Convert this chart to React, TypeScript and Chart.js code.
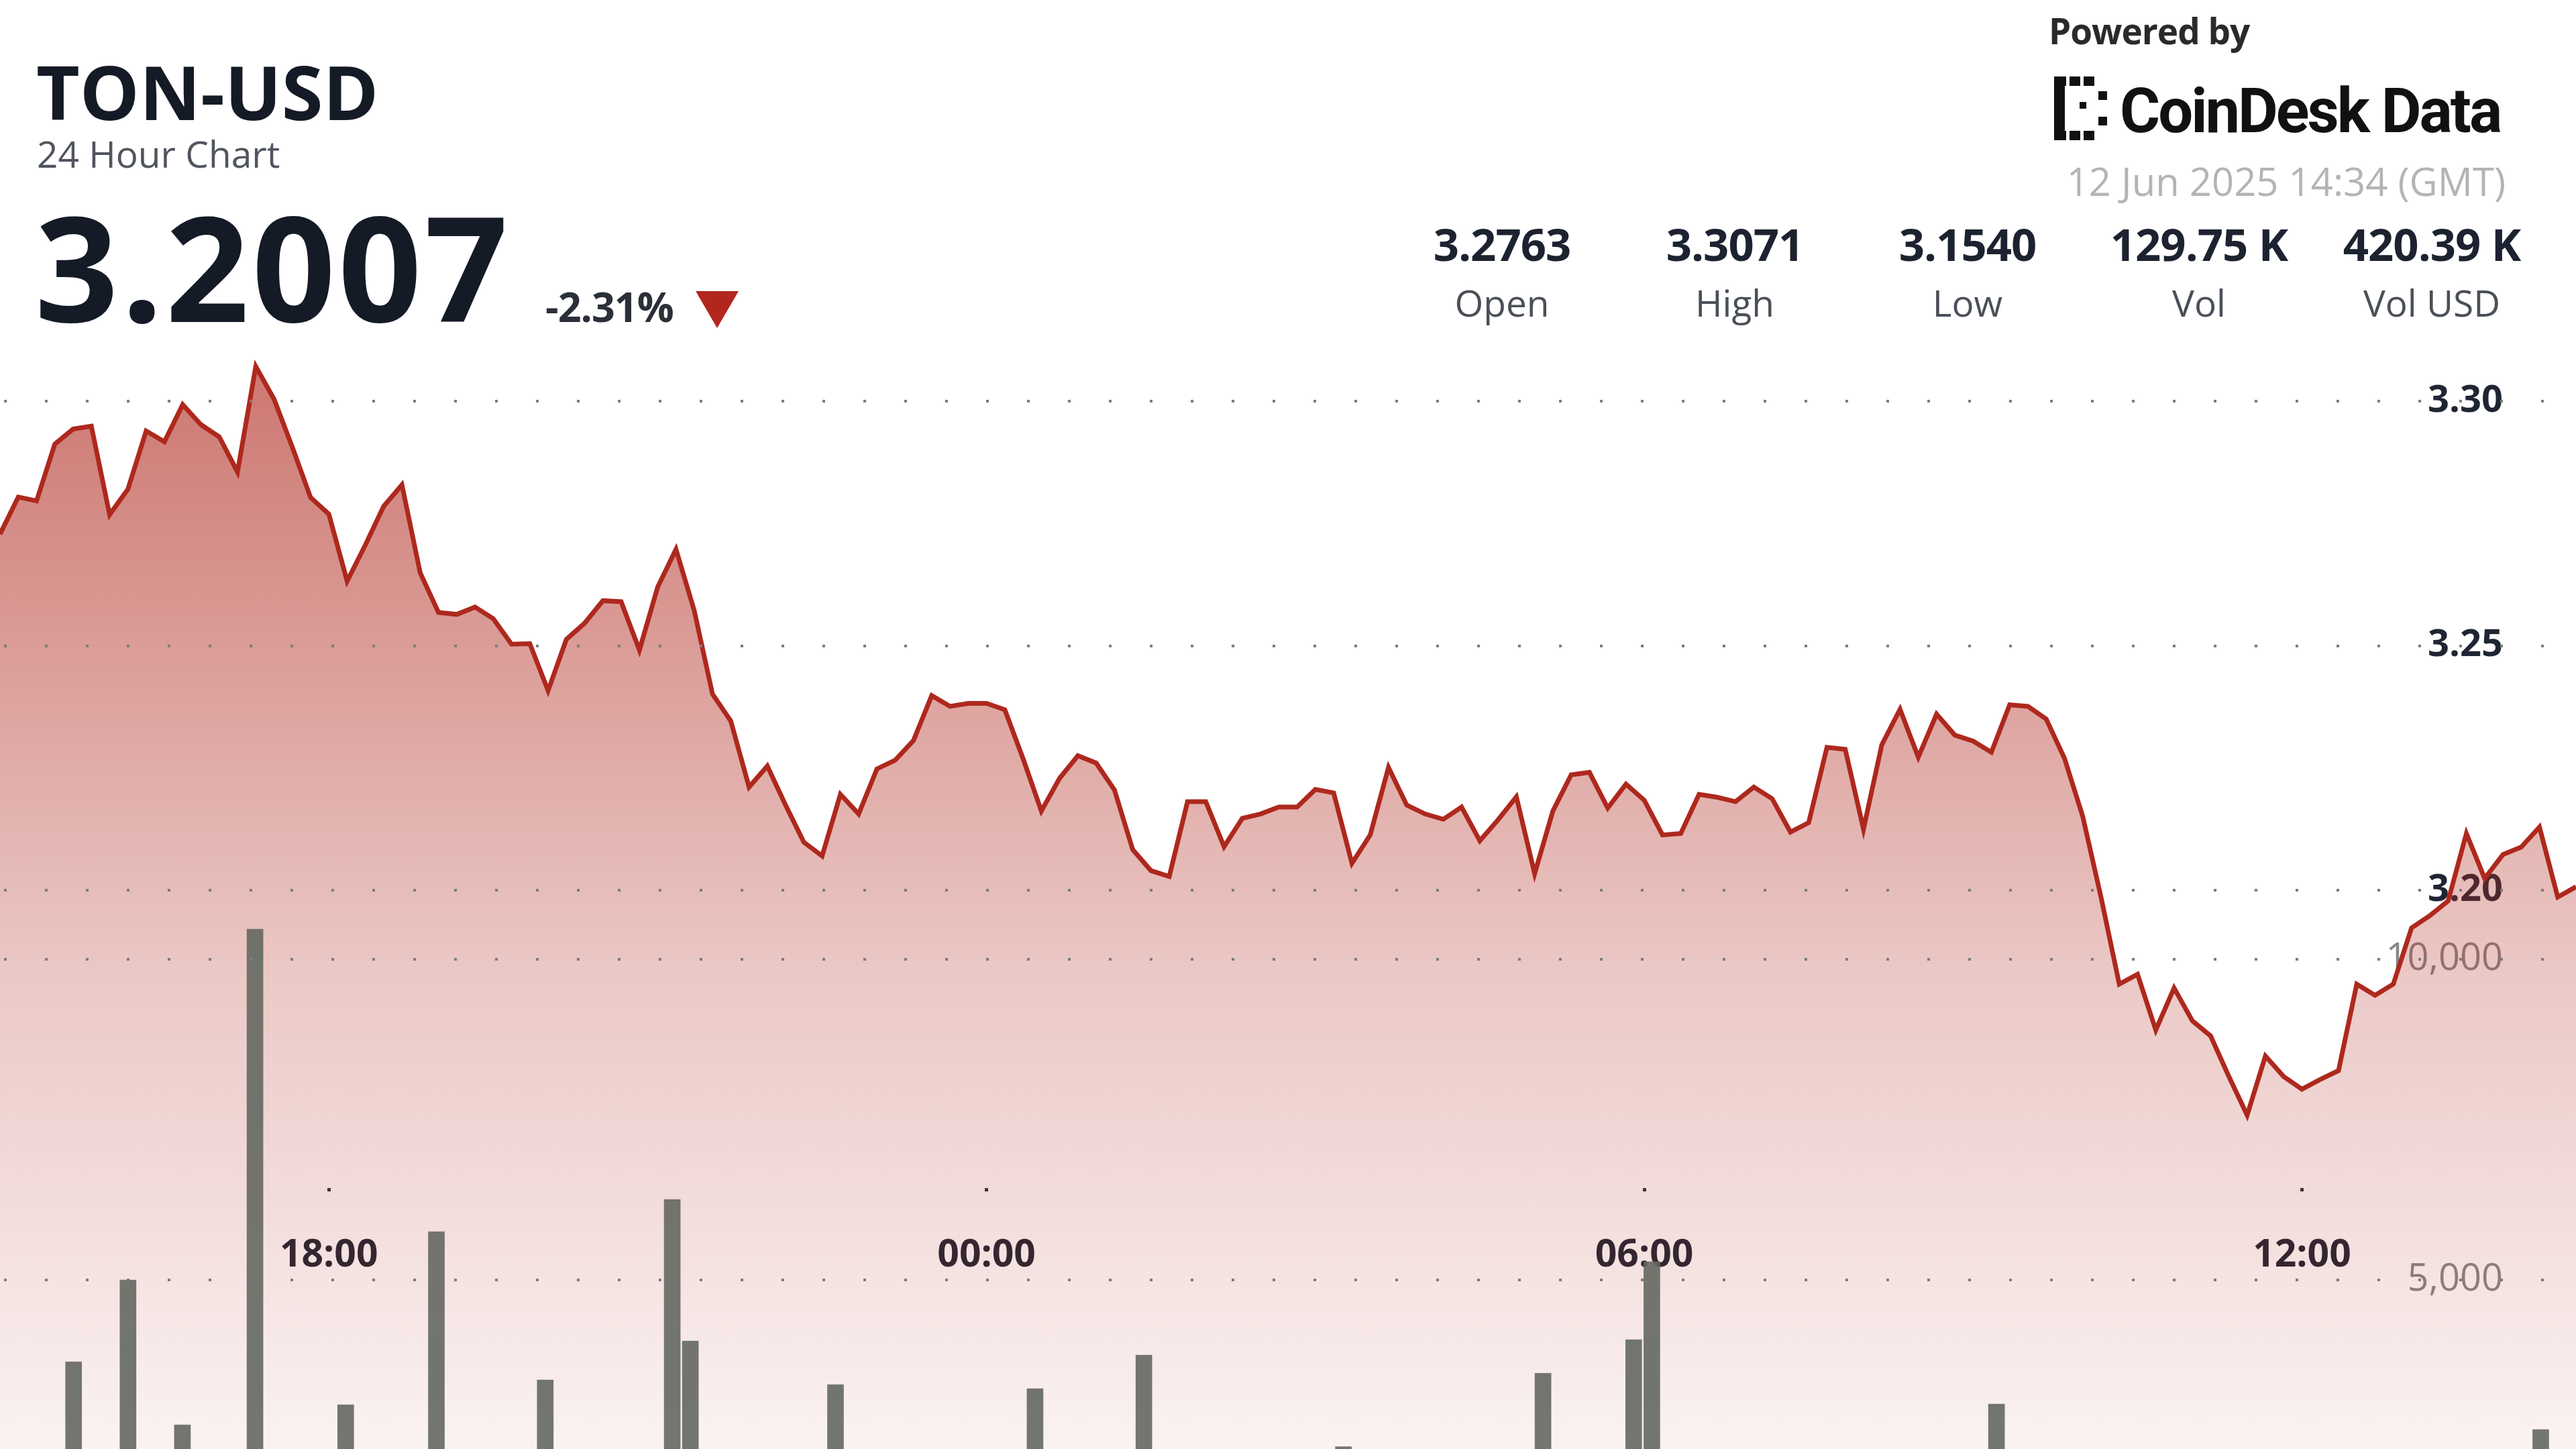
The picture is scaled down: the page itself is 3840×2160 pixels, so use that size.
import React, { useEffect, useRef } from 'react';
import { Chart, registerables } from 'chart.js';

Chart.register(...registerables);

const FONT = "'Open Sans', sans-serif";

// 10-minute closes, 11 Jun 15:00 -> 12 Jun 14:30 (GMT)
const prices = [
  3.2728, 3.2804, 3.2796, 3.2912, 3.2943, 3.2949, 3.2768, 3.2820, 3.2939, 3.2917,
  3.2993, 3.2952, 3.2927, 3.2855, 3.3071, 3.3004, 3.2906, 3.2803, 3.2769, 3.2632,
  3.2706, 3.2785, 3.2829, 3.2649, 3.2568, 3.2564, 3.2579, 3.2555, 3.2503, 3.2504,
  3.2408, 3.2513, 3.2546, 3.2592, 3.2590, 3.2491, 3.2620, 3.2697, 3.2572, 3.2401,
  3.2346, 3.2211, 3.2254, 3.2174, 3.2098, 3.2070, 3.2196, 3.2156, 3.2248, 3.2266,
  3.2306, 3.2398, 3.2376, 3.2382, 3.2382, 3.2369, 3.2269, 3.2162, 3.2229, 3.2275,
  3.2260, 3.2205, 3.2083, 3.2040, 3.2028, 3.2181, 3.2181, 3.2089, 3.2147, 3.2156,
  3.2170, 3.2170, 3.2206, 3.2199, 3.2055, 3.2113, 3.2251, 3.2174, 3.2156, 3.2145,
  3.2170, 3.2101, 3.2144, 3.2191, 3.2034, 3.2162, 3.2236, 3.2241, 3.2168, 3.2217,
  3.2184, 3.2113, 3.2116, 3.2196, 3.2190, 3.2181, 3.2211, 3.2187, 3.2119, 3.2138,
  3.2292, 3.2288, 3.2125, 3.2297, 3.2370, 3.2272, 3.2360, 3.2317, 3.2305, 3.2282,
  3.2379, 3.2376, 3.2350, 3.2270, 3.2151, 3.1986, 3.1808, 3.1828, 3.1714, 3.1800,
  3.1733, 3.1702, 3.1619, 3.1540, 3.1661, 3.1619, 3.1593, 3.1613, 3.1631, 3.1808,
  3.1785, 3.1808, 3.1923, 3.1948, 3.1978, 3.2116, 3.2024, 3.2073, 3.2088, 3.2129,
  3.1986, 3.2007,
];

const volumes = [
  820, 1240, 960, 1510, 3724, 1130, 870, 5000, 1420, 990,
  2740, 1180, 760, 1350, 10470, 1620, 1090, 840, 1270, 3054,
  980, 1410, 720, 1160, 5753, 1330, 890, 1050, 1240, 930,
  3441, 1120, 780, 1290, 1010, 860, 1470, 6255, 4048, 1380,
  1150, 940, 1260, 810, 1090, 1320, 3368, 1040, 760, 1180,
  920, 1350, 690, 830, 1110, 980, 1240, 3305, 870, 1030,
  760, 1190, 1420, 3828, 1060, 890, 720, 1280, 940, 810,
  670, 1030, 860, 740, 2400, 920, 1150, 780, 690, 1010,
  840, 960, 1120, 750, 1370, 3546, 1090, 820, 1230, 1540,
  4069, 5283, 1320, 980, 860, 1140, 1010, 790, 1260, 930,
  1480, 1090, 1620, 1170, 1390, 950, 1210, 880, 1060, 1330,
  3065, 1440, 1180, 1570, 1830, 1960, 1720, 1350, 1680, 1290,
  1150, 1420, 1610, 1890, 1240, 1080, 960, 1190, 1310, 1560,
  1270, 1140, 1380, 1020, 1190, 1450, 980, 1110, 1230, 1060,
  2667, 870,
];

const priceTicks = [3.2, 3.25, 3.3];
const volumeTicks = [5000, 10000];
const xTickLabels = ['18:00', '00:00', '06:00', '12:00'];

const START_MINUTE = 15 * 60;
const STEP_MINUTES = 10;
const timeLabels = prices.map((_, i) => {
  const m = START_MINUTE + i * STEP_MINUTES;
  const h = Math.floor(m / 60) % 24;
  const mm = m % 60;
  return `${String(h).padStart(2, '0')}:${String(mm).padStart(2, '0')}`;
});

const statValues = ['3.2763', '3.3071', '3.1540', '129.75 K', '420.39 K'];
const statLabels = ['Open', 'High', 'Low', 'Vol', 'Vol USD'];
const statCenters = [2239, 2586, 2933, 3278, 3625];

function App() {
  const canvasRef = useRef<HTMLCanvasElement | null>(null);

  useEffect(() => {
    const canvas = canvasRef.current;
    if (!canvas) return;
    const volumePoints = volumes.map((v, i) => ({ x: i, y: v }));
    const chart = new Chart(canvas, {
      type: 'line',
      data: {
        labels: timeLabels,
        datasets: [
          {
            type: 'bar',
            label: 'Volume',
            data: volumePoints,
            xAxisID: 'xb',
            yAxisID: 'yv',
            backgroundColor: 'rgba(100,104,97,0.9)',
            borderWidth: 0,
            barThickness: 24,
            order: 0,
          } as any,
          {
            type: 'line',
            label: 'TON-USD',
            data: prices,
            xAxisID: 'x',
            yAxisID: 'y',
            borderColor: '#ae281d',
            borderWidth: 7,
            borderJoinStyle: 'miter',
            pointRadius: 0,
            tension: 0,
            fill: 'start',
            order: 1,
            backgroundColor: (ctx: any) => {
              const { chart } = ctx;
              const area = chart.chartArea;
              if (!area) return 'rgba(178,45,35,0.3)';
              const g = chart.ctx.createLinearGradient(0, area.top, 0, area.bottom);
              g.addColorStop(0, 'rgba(178,45,35,0.66)');
              g.addColorStop(0.57, 'rgba(178,45,35,0.26)');
              g.addColorStop(1, 'rgba(178,45,35,0.06)');
              return g;
            },
          } as any,
        ],
      },
      options: {
        responsive: false,
        animation: false,
        devicePixelRatio: 1,
        layout: { padding: { top: 520, left: 0, right: 0, bottom: 0 } },
        plugins: {
          legend: { display: false },
          tooltip: { enabled: false },
          title: { display: false },
        },
        scales: {
          x: {
            type: 'category',
            position: { y: 3.1391 } as any,
            offset: false,
            grid: {
              display: true,
              drawOnChartArea: false,
              drawTicks: true,
              tickLength: 5,
              tickWidth: 5,
              tickColor: '#2a2f3a',
            },
            border: { display: false },
            afterBuildTicks: (scale: any) => {
              scale.ticks = xTickLabels.map((l) => ({ value: timeLabels.indexOf(l) }));
            },
            ticks: {
              autoSkip: false,
              maxRotation: 0,
              minRotation: 0,
              padding: 62,
              color: '#1f2533',
              font: { family: FONT, size: 57, weight: 'bold' },
            },
          } as any,
          xb: {
            type: 'linear',
            min: -0.5,
            max: prices.length - 0.5,
            offset: false,
            display: false,
          } as any,
          y: {
            type: 'linear',
            position: 'right',
            bounds: 'data',
            min: 3.085734,
            max: 3.3107,
            afterBuildTicks: (scale: any) => {
              scale.ticks = priceTicks.map((v) => ({ value: v }));
            },
            afterFit: (scale: any) => {
              scale.width = 0;
            },
            grid: { color: '#7c7c7c', lineWidth: 4, drawTicks: false, z: 1 },
            border: { display: false, dash: [4, 57], dashOffset: -6 },
            ticks: {
              mirror: true,
              padding: -109,
              color: '#1f2533',
              font: { family: FONT, size: 56, weight: 'bold' },
              callback: (v: any) => Number(v).toFixed(2),
            },
          } as any,
          yv: {
            type: 'linear',
            position: 'right',
            bounds: 'data',
            min: 2364,
            max: 19519,
            afterBuildTicks: (scale: any) => {
              scale.ticks = volumeTicks.map((v) => ({ value: v }));
            },
            afterFit: (scale: any) => {
              scale.width = 0;
            },
            grid: { color: '#7c7c7c', lineWidth: 4, drawTicks: false, z: 1 },
            border: { display: false, dash: [4, 57], dashOffset: -6 },
            ticks: {
              mirror: true,
              padding: -109,
              color: 'rgba(115,115,115,0.85)',
              font: { family: FONT, size: 56, weight: 'normal' },
              callback: (v: any) => Number(v).toLocaleString('en-US'),
            },
          } as any,
        },
      } as any,
    });
    return () => chart.destroy();
  }, []);

  const abs = (style: React.CSSProperties): React.CSSProperties => ({
    position: 'absolute',
    lineHeight: 1,
    whiteSpace: 'nowrap',
    fontFamily: FONT,
    margin: 0,
    ...style,
  });

  const iconBlocks: [number, number, number, number][] = [
    [0, 0, 18, 14],
    [23, 0, 16, 14],
    [44, 0, 16, 14],
    [0, 14, 16, 67],
    [0, 81, 18, 14],
    [23, 81, 16, 14],
    [44, 81, 16, 14],
    [66, 22, 13, 13],
    [66, 60, 13, 13],
    [38, 38, 10, 10],
  ];

  return (
    <div
      style={{
        position: 'fixed',
        left: 0,
        top: 0,
        width: 3840,
        height: 2160,
        background: '#ffffff',
        overflow: 'hidden',
      }}
    >
      <canvas
        ref={canvasRef}
        width={3840}
        height={2160}
        style={{ position: 'absolute', left: 0, top: 0, width: 3840, height: 2160 }}
      />
      <div style={abs({ left: 54, top: 80, fontSize: 112, fontWeight: 700, color: '#141a26', letterSpacing: 0 })}>
        TON-USD
      </div>
      <div style={abs({ left: 55, top: 201, fontSize: 55, fontWeight: 400, color: '#50555e' })}>
        24 Hour Chart
      </div>
      <div style={abs({ left: 52, top: 287, fontSize: 218, fontWeight: 700, color: '#141a26', letterSpacing: 4 })}>
        3.2007
      </div>
      <div style={abs({ left: 813, top: 426, fontSize: 61, fontWeight: 700, color: '#2a2f38', letterSpacing: -1 })}>
        -2.31%
      </div>
      <div
        style={{
          position: 'absolute',
          left: 1037,
          top: 434,
          width: 0,
          height: 0,
          borderLeft: '32px solid transparent',
          borderRight: '32px solid transparent',
          borderTop: '55px solid #b3261e',
        }}
      />
      <div style={abs({ left: 3054, top: 19, fontSize: 53, fontWeight: 700, color: '#2a2a2a', letterSpacing: -1 })}>
        Powered by
      </div>
      <div style={{ position: 'absolute', left: 3062, top: 114, width: 82, height: 95 }}>
        {iconBlocks.map(([x, y, w, h], i) => (
          <div key={i} style={{ position: 'absolute', left: x, top: y, width: w, height: h, background: '#111' }} />
        ))}
      </div>
      <div
        style={abs({
          left: 3160,
          top: 120,
          fontSize: 92,
          fontWeight: 700,
          color: '#111',
          fontFamily: 'Roboto, sans-serif',
          letterSpacing: -3,
        })}
      >
        CoinDesk Data
      </div>
      <div style={abs({ right: 105, top: 241, fontSize: 58, fontWeight: 400, color: '#b4b4b4' })}>
        12 Jun 2025 14:34 (GMT)
      </div>
      {statValues.map((v, i) => (
        <div
          key={'v' + i}
          style={abs({
            left: statCenters[i] - 200,
            width: 400,
            textAlign: 'center',
            top: 330,
            fontSize: 67,
            fontWeight: 700,
            color: '#1c2230',
            letterSpacing: -1,
          })}
        >
          {v}
        </div>
      ))}
      {statLabels.map((v, i) => (
        <div
          key={'l' + i}
          style={abs({
            left: statCenters[i] - 200,
            width: 400,
            textAlign: 'center',
            top: 423,
            fontSize: 55,
            fontWeight: 400,
            color: '#4a4f58',
          })}
        >
          {v}
        </div>
      ))}
    </div>
  );
}

export default App;
